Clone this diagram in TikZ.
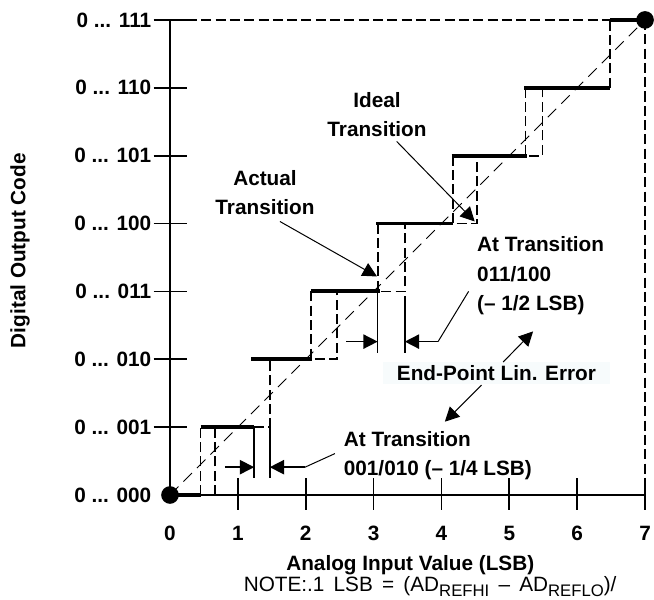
\documentclass[tikz,border=0pt]{standalone}
\usepackage{fontspec}
\setmainfont{Liberation Sans}
\usepackage{tikz}
\usetikzlibrary{arrows.meta}
\definecolor{paleblue}{RGB}{247,251,252}
\def\dstep{\draw[line width=1.6pt]}
\def\dbox{\draw[line width=0.7pt,dash pattern=on 4.2pt off 1.8pt]}
\def\dtick{\draw[line width=0.75pt]}
\def\dext{\draw[line width=0.65pt]}
\newcommand\lowidx[1]{\raisebox{-2.2pt}{\fontsize{7}{8}\selectfont #1}}
\tikzset{
  lbl/.style={font=\fontsize{8.7}{12.2}\selectfont\bfseries, inner sep=0pt},
  note/.style={font=\fontsize{8.7}{10}\selectfont, inner sep=0pt},
  tip/.style={-{Triangle[length=6pt,width=6pt]}},
  lead/.style={line width=0.42pt},
  dimen/.style={line width=0.65pt},
  dot/.style={circle, fill, inner sep=0pt, minimum size=0.26cm},
}

\begin{document}
\begin{tikzpicture}
\useasboundingbox (-2.505,-1.533) rectangle (7.132,7.294);
% frame and ideal line
\dbox (0.25,7) -- (6.48,7);
\dbox (7,7) -- (7,0.25);
\draw[line width=0.42pt,dash pattern=on 5pt off 3pt] (0,0) -- (7,7);
% axes
\dtick (0,7) -- (0,0) -- (7,0);
\dtick (-0.24,1) -- (0.25,1);
\dtick (-0.24,2) -- (0.25,2);
\dtick (-0.24,3) -- (0.25,3);
\dtick (-0.24,4) -- (0.25,4);
\dtick (-0.24,5) -- (0.25,5);
\dtick (-0.24,6) -- (0.25,6);
\dtick (-0.24,7) -- (0.25,7);
\dtick (1,-0.22) -- (1,0.25);
\dtick (2,-0.22) -- (2,0.25);
\dtick (3,-0.22) -- (3,0.25);
\dtick (4,-0.22) -- (4,0.25);
\dtick (5,-0.22) -- (5,0.25);
\dtick (6,-0.22) -- (6,0.25);
\dtick (7,-0.22) -- (7,0.25);
% ideal steps
\dbox (0.45,0) -- (0.45,1);
\dbox (0.66,0) -- (0.66,1);
\dbox (1.24,1) -- (1.47,1) -- (1.47,2);
\dbox (2.08,3) -- (2.08,2) -- (2.46,2) -- (2.46,3);
\dbox (3.06,4) -- (3.06,3) -- (3.46,3) -- (3.46,4);
\dbox (4.17,5) -- (4.17,4) -- (4.52,4) -- (4.52,5);
\dbox (5.24,6) -- (5.24,5) -- (5.49,5) -- (5.49,6);
\dbox (6.48,6) -- (6.48,7);
% actual steps
\dstep (0,0) -- (0.45,0);
\dstep (0.45,1) -- (1.24,1);
\dstep (1.20,2) -- (2.09,2);
\dstep (2.08,3) -- (3.09,3);
\dstep (3.04,4) -- (4.17,4);
\dstep (4.15,5) -- (5.26,5);
\dstep (5.22,6) -- (6.49,6);
\dstep (6.48,7) -- (7,7);
\node[dot] (org) at (0,0) {};
\node[dot] (fs) at (7,7) {};
% code labels
\node[lbl,anchor=east] (c000) at (-0.27,0) {0 ... 000};
\node[lbl,anchor=east] (c001) at (-0.27,1) {0 ... 001};
\node[lbl,anchor=east] (c010) at (-0.27,2) {0 ... 010};
\node[lbl,anchor=east] (c011) at (-0.27,3) {0 ... 011};
\node[lbl,anchor=east] (c100) at (-0.27,4) {0 ... 100};
\node[lbl,anchor=east] (c101) at (-0.27,5) {0 ... 101};
\node[lbl,anchor=east] (c110) at (-0.27,6) {0 ... 110};
\node[lbl,anchor=east] (c111) at (-0.27,7) {0 ... 111};
% input labels
\node[lbl,anchor=north] (v0) at (0,-0.45) {0};
\node[lbl,anchor=north] (v1) at (1,-0.45) {1};
\node[lbl,anchor=north] (v2) at (2,-0.45) {2};
\node[lbl,anchor=north] (v3) at (3,-0.45) {3};
\node[lbl,anchor=north] (v4) at (4,-0.45) {4};
\node[lbl,anchor=north] (v5) at (5,-0.45) {5};
\node[lbl,anchor=north] (v6) at (6,-0.45) {6};
\node[lbl,anchor=north] (v7) at (7,-0.45) {7};
\node[lbl,rotate=90] (ylab) at (-2.21,3.6) {Digital Output Code};
\node[lbl,anchor=base] (xlab) at (3.54,-1.115) {Analog Input Value (LSB)};
\node[note,anchor=base west] (note) at (1.08,-1.415)
  {NOTE:.1\, LSB \,=\, (AD\lowidx{REFHI} \,–\, AD\lowidx{REFLO})/};
% transition 001/010
\dext (1.24,1) -- (1.24,0.25);
\dext (1.47,1) -- (1.47,0.25);
\coordinate (lo1) at (1.24,0.41);
\coordinate (lo2) at (1.47,0.41);
\coordinate (lo3) at (1.99,0.41);
\coordinate (lo4) at (2.43,0.61);
\draw[dimen,tip] (0.81,0.41) -- (lo1);
\draw[dimen,tip] (lo3) -- (lo2);
\draw[lead] (lo3) -- (lo4);
\node[lbl,align=left,anchor=north west] (at010) at (2.555,0.943)
  {At Transition\\001/010 (– 1/4 LSB)};
% transition 011/100
\dext (3.06,3) -- (3.06,2.09);
\dext (3.46,2.93) -- (3.46,2.09);
\coordinate (hi1) at (3.06,2.26);
\coordinate (hi2) at (3.46,2.26);
\coordinate (hi3) at (3.95,2.26);
\coordinate (hi4) at (4.40,3.0);
\draw[dimen,tip] (2.60,2.26) -- (hi1);
\draw[dimen,tip] (hi3) -- (hi2);
\draw[lead] (hi3) -- (hi4);
\node[lbl,align=left,anchor=north west] (at100) at (4.52,3.81)
  {At Transition\\011/100\\(– 1/2 LSB)};
% pointers
\node[lbl,align=center,anchor=north] (actual) at (1.40,4.79) {Actual\\Transition};
\node[lbl,align=center,anchor=north] (ideal) at (3.05,5.94) {Ideal\\Transition};
\coordinate (actfrom) at (1.62,4.03);
\coordinate (actto) at (3.05,3.22);
\coordinate (idlfrom) at (3.34,5.21);
\coordinate (idlto) at (4.49,4.03);
\draw[lead,tip] (actfrom) -- (actto);
\draw[lead,tip] (idlfrom) -- (idlto);
\node[lbl,fill=paleblue,inner xsep=6pt,inner ysep=1.5pt,anchor=base] (epl) at (4.81,1.69)
  {End-Point Lin. Error};
\coordinate (eplup) at (5.35,2.41);
\coordinate (epldn) at (4.05,1.08);
\draw[lead,tip] (4.91,1.96) -- (eplup);
\draw[lead,tip] (4.59,1.62) -- (epldn);
\end{tikzpicture}
\end{document}
